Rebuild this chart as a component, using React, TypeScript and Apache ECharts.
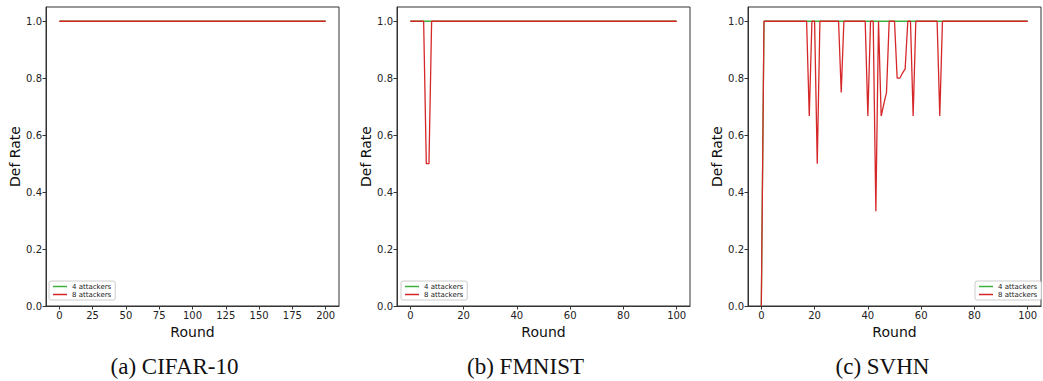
import React, { useEffect, useRef } from "react";
import * as echarts from "echarts";

// ---------- data ----------
const seriesNames = ["4 attackers", "8 attackers"];
const captions = ["(a) CIFAR-10", "(b) FMNIST", "(c) SVHN"];
const yTicks = [0, 0.2, 0.4, 0.6, 0.8, 1.0];
const cifarXTicks = [0, 25, 50, 75, 100, 125, 150, 175, 200];
const roundXTicks = [0, 20, 40, 60, 80, 100];

// CIFAR-10: rounds 0..200
const cifar4 = [
  1, 1, 1, 1, 1, 1, 1, 1, 1, 1, 1, 1, 1, 1, 1, 1, 1, 1, 1, 1,
  1, 1, 1, 1, 1, 1, 1, 1, 1, 1, 1, 1, 1, 1, 1, 1, 1, 1, 1, 1,
  1, 1, 1, 1, 1, 1, 1, 1, 1, 1, 1, 1, 1, 1, 1, 1, 1, 1, 1, 1,
  1, 1, 1, 1, 1, 1, 1, 1, 1, 1, 1, 1, 1, 1, 1, 1, 1, 1, 1, 1,
  1, 1, 1, 1, 1, 1, 1, 1, 1, 1, 1, 1, 1, 1, 1, 1, 1, 1, 1, 1,
  1, 1, 1, 1, 1, 1, 1, 1, 1, 1, 1, 1, 1, 1, 1, 1, 1, 1, 1, 1,
  1, 1, 1, 1, 1, 1, 1, 1, 1, 1, 1, 1, 1, 1, 1, 1, 1, 1, 1, 1,
  1, 1, 1, 1, 1, 1, 1, 1, 1, 1, 1, 1, 1, 1, 1, 1, 1, 1, 1, 1,
  1, 1, 1, 1, 1, 1, 1, 1, 1, 1, 1, 1, 1, 1, 1, 1, 1, 1, 1, 1,
  1, 1, 1, 1, 1, 1, 1, 1, 1, 1, 1, 1, 1, 1, 1, 1, 1, 1, 1, 1,
  1,
];
const cifar8 = [
  1, 1, 1, 1, 1, 1, 1, 1, 1, 1, 1, 1, 1, 1, 1, 1, 1, 1, 1, 1,
  1, 1, 1, 1, 1, 1, 1, 1, 1, 1, 1, 1, 1, 1, 1, 1, 1, 1, 1, 1,
  1, 1, 1, 1, 1, 1, 1, 1, 1, 1, 1, 1, 1, 1, 1, 1, 1, 1, 1, 1,
  1, 1, 1, 1, 1, 1, 1, 1, 1, 1, 1, 1, 1, 1, 1, 1, 1, 1, 1, 1,
  1, 1, 1, 1, 1, 1, 1, 1, 1, 1, 1, 1, 1, 1, 1, 1, 1, 1, 1, 1,
  1, 1, 1, 1, 1, 1, 1, 1, 1, 1, 1, 1, 1, 1, 1, 1, 1, 1, 1, 1,
  1, 1, 1, 1, 1, 1, 1, 1, 1, 1, 1, 1, 1, 1, 1, 1, 1, 1, 1, 1,
  1, 1, 1, 1, 1, 1, 1, 1, 1, 1, 1, 1, 1, 1, 1, 1, 1, 1, 1, 1,
  1, 1, 1, 1, 1, 1, 1, 1, 1, 1, 1, 1, 1, 1, 1, 1, 1, 1, 1, 1,
  1, 1, 1, 1, 1, 1, 1, 1, 1, 1, 1, 1, 1, 1, 1, 1, 1, 1, 1, 1,
  1,
];

// FMNIST: rounds 0..100
const fmnist4 = [
  1, 1, 1, 1, 1, 1, 1, 1, 1, 1, 1, 1, 1, 1, 1, 1, 1, 1, 1, 1,
  1, 1, 1, 1, 1, 1, 1, 1, 1, 1, 1, 1, 1, 1, 1, 1, 1, 1, 1, 1,
  1, 1, 1, 1, 1, 1, 1, 1, 1, 1, 1, 1, 1, 1, 1, 1, 1, 1, 1, 1,
  1, 1, 1, 1, 1, 1, 1, 1, 1, 1, 1, 1, 1, 1, 1, 1, 1, 1, 1, 1,
  1, 1, 1, 1, 1, 1, 1, 1, 1, 1, 1, 1, 1, 1, 1, 1, 1, 1, 1, 1,
  1,
];
const fmnist8 = [
  1, 1, 1, 1, 1, 1, 0.5, 0.5, 1, 1, 1, 1, 1, 1, 1, 1, 1, 1, 1, 1,
  1, 1, 1, 1, 1, 1, 1, 1, 1, 1, 1, 1, 1, 1, 1, 1, 1, 1, 1, 1,
  1, 1, 1, 1, 1, 1, 1, 1, 1, 1, 1, 1, 1, 1, 1, 1, 1, 1, 1, 1,
  1, 1, 1, 1, 1, 1, 1, 1, 1, 1, 1, 1, 1, 1, 1, 1, 1, 1, 1, 1,
  1, 1, 1, 1, 1, 1, 1, 1, 1, 1, 1, 1, 1, 1, 1, 1, 1, 1, 1, 1,
  1,
];

// SVHN: rounds 0..100
const svhn4 = [
  0, 1, 1, 1, 1, 1, 1, 1, 1, 1, 1, 1, 1, 1, 1, 1, 1, 1, 1, 1,
  1, 1, 1, 1, 1, 1, 1, 1, 1, 1, 1, 1, 1, 1, 1, 1, 1, 1, 1, 1,
  1, 1, 1, 1, 1, 1, 1, 1, 1, 1, 1, 1, 1, 1, 1, 1, 1, 1, 1, 1,
  1, 1, 1, 1, 1, 1, 1, 1, 1, 1, 1, 1, 1, 1, 1, 1, 1, 1, 1, 1,
  1, 1, 1, 1, 1, 1, 1, 1, 1, 1, 1, 1, 1, 1, 1, 1, 1, 1, 1, 1,
  1,
];
const svhn8 = [
  0, 1, 1, 1, 1, 1, 1, 1, 1, 1, 1, 1, 1, 1, 1, 1, 1, 1, 0.667, 1,
  1, 0.5, 1, 1, 1, 1, 1, 1, 1, 1, 0.75, 1, 1, 1, 1, 1, 1, 1, 1, 1,
  0.667, 1, 1, 0.333, 1, 0.667, 0.71, 0.75, 1, 1, 1, 0.8, 0.8, 0.818, 0.833, 1, 1, 0.667, 1, 1,
  1, 1, 1, 1, 1, 1, 1, 0.667, 1, 1, 1, 1, 1, 1, 1, 1, 1, 1, 1, 1,
  1, 1, 1, 1, 1, 1, 1, 1, 1, 1, 1, 1, 1, 1, 1, 1, 1, 1, 1, 1,
  1,
];

const panels = [
  { a4: cifar4, a8: cifar8, xMin: -10, xMax: 210, xTicks: cifarXTicks, legendLeft: 49 },
  { a4: fmnist4, a8: fmnist8, xMin: -5, xMax: 105, xTicks: roundXTicks, legendLeft: 401 },
  { a4: svhn4, a8: svhn8, xMin: -5, xMax: 105, xTicks: roundXTicks, legendLeft: 975 },
];

const GREEN = "#3cb03c";
const RED = "#d62728";
const FONT = "DejaVu Sans";
const gridLefts = [46, 397, 748];
const GRID_TOP = 7;
const GRID_W = 293;
const GRID_H = 299;

export default function App() {
  const ref = useRef<HTMLDivElement>(null);

  useEffect(() => {
    if (!ref.current) return;
    const chart = echarts.init(ref.current, undefined, { renderer: "svg" });

    const grid = gridLefts.map((l) => ({
      left: l,
      top: GRID_TOP,
      width: GRID_W,
      height: GRID_H,
      show: true,
      borderColor: "#333",
      borderWidth: 1,
      backgroundColor: "transparent",
    }));

    const xAxis = panels.map((p, i) => ({
      type: "value",
      gridIndex: i,
      min: p.xMin,
      max: p.xMax,
      name: "Round",
      nameLocation: "middle",
      nameGap: 14,
      nameTextStyle: { fontFamily: FONT, fontSize: 14, color: "#111" },
      axisLine: { show: true, onZero: false, lineStyle: { color: "#333", width: 1 } },
      axisTick: { show: true, length: 3.5, customValues: p.xTicks, lineStyle: { color: "#333" } },
      axisLabel: {
        customValues: p.xTicks,
        margin: 4,
        fontFamily: FONT,
        fontSize: 10,
        color: "#222",
      },
      splitLine: { show: false },
    }));

    const yAxis = panels.map((_, i) => ({
      type: "value",
      gridIndex: i,
      min: 0,
      max: 1.05,
      name: "Def Rate",
      nameLocation: "middle",
      nameGap: 21,
      nameTextStyle: { fontFamily: FONT, fontSize: 14, color: "#111" },
      axisLine: { show: true, onZero: false, lineStyle: { color: "#333", width: 1 } },
      axisTick: { show: true, length: 3.5, customValues: yTicks, lineStyle: { color: "#333" } },
      axisLabel: {
        customValues: yTicks,
        margin: 4,
        fontFamily: FONT,
        fontSize: 10,
        color: "#222",
        formatter: (v: number) => v.toFixed(1),
      },
      splitLine: { show: false },
    }));

    const series: any[] = [];
    panels.forEach((p, i) => {
      series.push({
        type: "line",
        name: seriesNames[0],
        xAxisIndex: i,
        yAxisIndex: i,
        data: p.a4.map((v, k) => [k, v]),
        showSymbol: false,
        symbol: "none",
        lineStyle: { color: GREEN, width: 1.3 },
        itemStyle: { color: GREEN },
        z: 2,
      });
      series.push({
        type: "line",
        name: seriesNames[1],
        xAxisIndex: i,
        yAxisIndex: i,
        data: p.a8.map((v, k) => [k, v]),
        showSymbol: false,
        symbol: "none",
        lineStyle: { color: RED, width: 1.3 },
        itemStyle: { color: RED },
        z: 3,
      });
    });

    const legend = panels.map((p) => ({
      data: seriesNames,
      orient: "vertical",
      left: p.legendLeft,
      top: 281,
      icon: "rect",
      itemWidth: 14,
      itemHeight: 1.5,
      itemGap: 1,
      padding: [2, 4, 2, 4],
      borderColor: "#ccc",
      borderWidth: 1,
      borderRadius: 2,
      backgroundColor: "#fff",
      textStyle: { fontFamily: FONT, fontSize: 7, color: "#222" },
      selectedMode: false,
    }));

    chart.setOption({
      animation: false,
      backgroundColor: "#fff",
      grid,
      xAxis,
      yAxis,
      series,
      legend,
      graphic: captions.map((c, i) => ({
        type: "text",
        x: gridLefts[i] + GRID_W / 2 + [-18, -18, -12][i],
        y: 366,
        style: {
          text: c,
          fontFamily: "Liberation Serif",
          fontSize: 23,
          fill: "#111",
          align: "center",
          verticalAlign: "middle",
        },
      })),
    });

    return () => chart.dispose();
  }, []);

  return (
    <div
      ref={ref}
      style={{ position: "fixed", left: 0, top: 0, width: 1043, height: 381 }}
    />
  );
}
